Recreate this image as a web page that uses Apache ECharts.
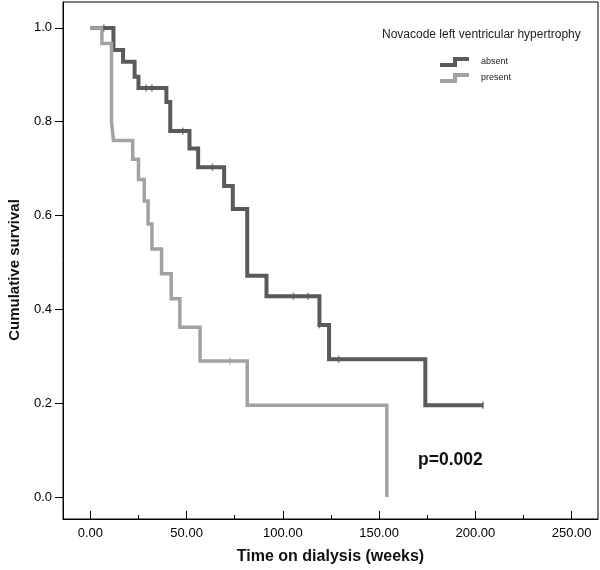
<!DOCTYPE html>
<html>
<head>
<meta charset="utf-8">
<script src="https://cdn.jsdelivr.net/npm/echarts@6/dist/echarts.min.js"></script>
<style>
html,body{margin:0;padding:0;background:#fff;}
#chart{width:600px;height:570px;}
</style>
</head>
<body>
<div id="chart"></div>
<script>
// ---- data ----
const groupNames = ['absent', 'present'];
const timesAbsent = [0, 12, 17, 23, 25, 39.5, 41.5, 51.5, 56, 69.5, 74, 81.5, 91.5, 119, 124, 174, 204];
const survAbsent  = [1.0, 0.953, 0.928, 0.896, 0.872, 0.842, 0.78, 0.743, 0.703, 0.663, 0.614, 0.472, 0.428, 0.367, 0.294, 0.196, 0.196];
const censorAbsent = [7, 29, 32, 48, 63.5, 105.5, 113, 119, 129, 204];
const timesPresent = [0, 6, 11, 12, 22, 25, 28, 30, 32, 37, 42, 46.5, 57, 81.5, 154];
const survPresent  = [1.0, 0.967, 0.80, 0.76, 0.72, 0.677, 0.631, 0.582, 0.529, 0.476, 0.4225, 0.362, 0.29, 0.196, 0.0];
const censorPresent = [72.5];
const xTickValues = [0, 50, 100, 150, 200, 250];
const xMinorTickValues = [25, 75, 125, 175, 225];
const yTickValues = [0, 0.2, 0.4, 0.6, 0.8, 1.0];
const legendTitle = 'Novacode left ventricular hypertrophy';
const pValueText = 'p=0.002';
const xTitle = 'Time on dialysis (weeks)';
const yTitle = 'Cumulative survival';

// ---- helpers ----
function pairs(ts, ss) { return ts.map((t, i) => [t, ss[i]]); }
function survAt(ts, ss, t) {
  let v = ss[0];
  for (let i = 0; i < ts.length; i++) { if (ts[i] <= t) v = ss[i]; }
  return v;
}
function censorPts(cs, ts, ss) { return cs.map(t => [t, survAt(ts, ss, t)]); }

const FONT = 'Liberation Sans, Arial, Helvetica, sans-serif';
const DARK = '#5a5a5a';
const LIGHT = '#a2a2a2';
const stepIcon = 'path://M0,6 L13,6 L13,0 L29,0 L29,4 L17,4 L17,10 L0,10 Z';

const chart = echarts.init(document.getElementById('chart'), null, {renderer: 'canvas'});
chart.setOption({
  animation: false,
  backgroundColor: '#fff',
  textStyle: {fontFamily: FONT},
  title: {
    text: legendTitle,
    left: 382, top: 29, padding: 0,
    textStyle: {fontSize: 12, fontWeight: 'normal', color: '#222', fontFamily: FONT}
  },
  legend: {
    orient: 'vertical',
    left: 440, top: 57, padding: 0,
    itemWidth: 29, itemHeight: 10, itemGap: 6,
    textStyle: {fontSize: 9, color: '#222', fontFamily: FONT, padding: [0, 0, 0, 7]},
    data: groupNames.map(n => ({name: n, icon: stepIcon}))
  },
  graphic: [{
    type: 'text', left: 418, top: 451,
    style: {text: pValueText, font: 'bold 17.5px ' + FONT, fill: '#111'}
  }, {
    type: 'text', x: 15, y: 270, rotation: Math.PI / 2,
    style: {text: yTitle, font: 'bold 15px ' + FONT, fill: '#111', align: 'center', verticalAlign: 'middle'}
  }],
  grid: {left: 63, right: 2, top: 2, bottom: 49, show: true, borderColor: '#000', borderWidth: 1, backgroundColor: 'transparent'},
  xAxis: [{
    type: 'value', min: -14.2, max: 263.7,
    axisLine: {show: true, onZero: false, lineStyle: {color: '#000', width: 1}},
    axisTick: {show: true, inside: true, length: 8, customValues: xTickValues, lineStyle: {color: '#000'}},
    axisLabel: {customValues: xTickValues, formatter: v => v.toFixed(2), fontSize: 13, color: '#000', margin: 8, fontFamily: FONT},
    splitLine: {show: false},
    name: xTitle, nameLocation: 'middle', nameGap: 30,
    nameTextStyle: {fontSize: 16, fontWeight: 'bold', color: '#111', fontFamily: FONT}
  }, {
    type: 'value', min: -14.2, max: 263.7, position: 'bottom',
    axisLine: {show: false, onZero: false},
    axisTick: {show: true, inside: true, length: 4, customValues: xMinorTickValues, lineStyle: {color: '#000'}},
    axisLabel: {show: false, customValues: xMinorTickValues},
    splitLine: {show: false}
  }],
  yAxis: {
    type: 'value', min: -0.0467, max: 1.0552,
    axisLine: {show: true, onZero: false, lineStyle: {color: '#000', width: 1}},
    axisTick: {show: true, inside: false, length: 8, customValues: yTickValues, lineStyle: {color: '#000'}},
    axisLabel: {customValues: yTickValues, formatter: v => v.toFixed(1), fontSize: 13, color: '#000', margin: 11, fontFamily: FONT},
    splitLine: {show: false}
  },
  series: [{
    name: 'absent', type: 'line', step: 'end', showSymbol: false, symbol: 'none',
    color: DARK, itemStyle: {color: DARK},
    lineStyle: {color: DARK, width: 4, join: 'miter'},
    data: pairs(timesAbsent, survAbsent), z: 2
  }, {
    name: 'present', type: 'line', step: 'end', showSymbol: false, symbol: 'none',
    color: LIGHT, itemStyle: {color: LIGHT},
    lineStyle: {color: LIGHT, width: 3.5, join: 'miter'},
    data: pairs(timesPresent, survPresent), z: 3
  }, {
    name: 'absent', type: 'scatter', symbol: 'rect', symbolSize: [1.5, 7],
    itemStyle: {color: DARK}, data: censorPts(censorAbsent, timesAbsent, survAbsent), z: 4
  }, {
    name: 'present', type: 'scatter', symbol: 'rect', symbolSize: [1.5, 7],
    itemStyle: {color: LIGHT}, data: censorPts(censorPresent, timesPresent, survPresent), z: 4
  }]
});
</script>
</body>
</html>
